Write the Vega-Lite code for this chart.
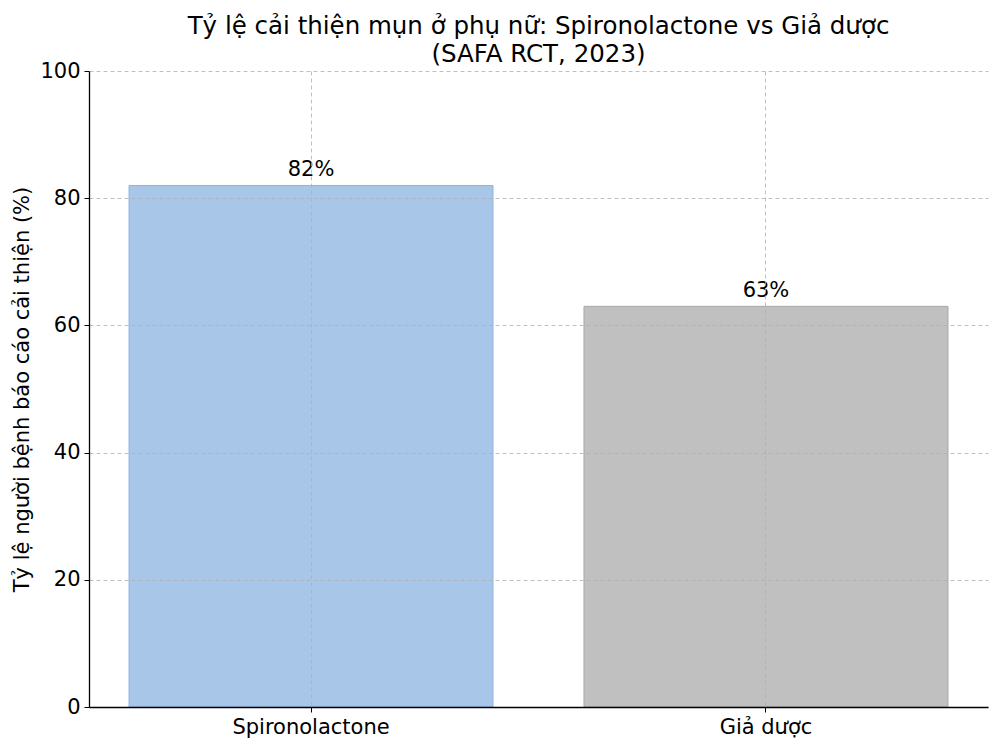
{
  "$schema": "https://vega.github.io/schema/vega-lite/v6.json",
  "width": 899,
  "height": 636,
  "autosize": {"type": "none"},
  "padding": {"left": 89, "top": 71, "right": 12, "bottom": 40},
  "background": "white",
  "title": {
    "text": ["Tỷ lệ cải thiện mụn ở phụ nữ: Spironolactone vs Giả dược", "(SAFA RCT, 2023)"],
    "font": "DejaVu Sans",
    "fontSize": 24.5,
    "fontWeight": "normal",
    "color": "black",
    "anchor": "middle",
    "lineHeight": 28,
    "offset": -7
  },
  "data": {
    "values": [
      {"group": "Spironolactone", "pct": 82, "label": "82%"},
      {"group": "Giả dược", "pct": 63, "label": "63%"}
    ]
  },
  "encoding": {
    "x": {
      "field": "group",
      "type": "nominal",
      "sort": null,
      "scale": {"paddingInner": 0.2, "paddingOuter": 0.088},
      "axis": {
        "title": null,
        "labelAngle": 0,
        "labelFontSize": 21,
        "labelPadding": 4,
        "tickSize": 5,
        "tickColor": "black",
        "domainColor": "black",
        "domainWidth": 1.3,
        "grid": true,
        "gridDash": [4, 3],
        "gridColor": "#b0b0b0",
        "gridWidth": 0.8,
        "zindex": 1
      }
    },
    "y": {
      "field": "pct",
      "type": "quantitative",
      "scale": {"domain": [0, 100]},
      "axis": {
        "title": "Tỷ lệ người bệnh báo cáo cải thiện (%)",
        "titleFontSize": 21,
        "titleFontWeight": "normal",
        "titlePadding": 7,
        "values": [0, 20, 40, 60, 80, 100],
        "labelFontSize": 21,
        "labelPadding": 4,
        "tickSize": 5,
        "tickColor": "black",
        "domainColor": "black",
        "domainWidth": 1.3,
        "grid": true,
        "gridDash": [4, 3],
        "gridColor": "#b0b0b0",
        "gridWidth": 0.8,
        "zindex": 1
      }
    }
  },
  "layer": [
    {
      "mark": {"type": "bar", "strokeWidth": 1},
      "encoding": {
        "color": {
          "field": "group",
          "type": "nominal",
          "scale": {"domain": ["Spironolactone", "Giả dược"], "range": ["#a8c6e8", "#c0c0c0"]},
          "legend": null
        },
        "stroke": {
          "field": "group",
          "type": "nominal",
          "scale": {"domain": ["Spironolactone", "Giả dược"], "range": ["#8fb3de", "#a8a8a8"]},
          "legend": null
        }
      }
    },
    {
      "mark": {"type": "text", "baseline": "bottom", "dy": -5, "fontSize": 21, "color": "black"},
      "encoding": {"text": {"field": "label"}}
    }
  ],
  "config": {
    "font": "DejaVu Sans",
    "view": {"stroke": null},
    "axis": {"labelColor": "black", "titleColor": "black", "labelFont": "DejaVu Sans", "titleFont": "DejaVu Sans"},
    "text": {"font": "DejaVu Sans"}
  }
}
